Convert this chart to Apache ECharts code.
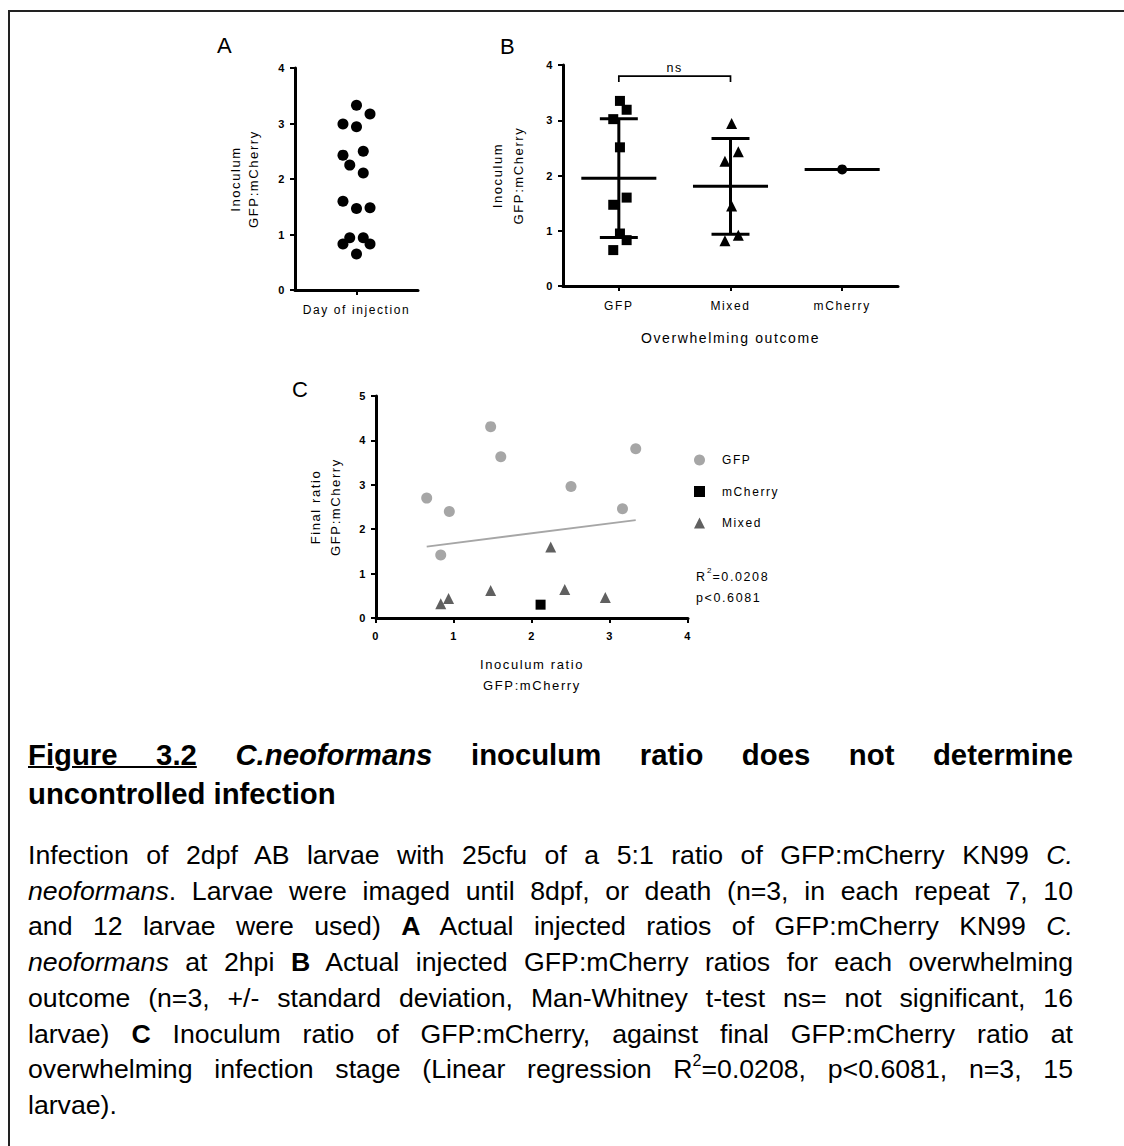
<!DOCTYPE html>
<html>
<head>
<meta charset="utf-8">
<script src="https://cdn.jsdelivr.net/npm/echarts@6/dist/echarts.min.js"></script>
<style>
html, body { margin: 0; padding: 0; background: #fff; }
body { width: 1124px; height: 1146px; position: relative; overflow: hidden; }
#frame { position: absolute; left: 8px; top: 10px; width: 1130px; height: 1150px; border-top: 2px solid #222; border-left: 2px solid #222; }
#fig { position: absolute; left: 0; top: 0; width: 1124px; height: 720px; }
#fig text { letter-spacing: 1.6px; }
.cap { position: absolute; left: 28px; width: 1045px; font-family: "Liberation Sans", Arial, sans-serif; color: #000; }
#title { top: 735px; font-size: 29.3px; line-height: 39px; font-weight: bold; }
#title u { text-decoration-thickness: 2px; }
#body { top: 838px; font-size: 26.67px; line-height: 35.7px; }
.j { text-align: justify; text-align-last: justify; }
sup { font-size: 0.6em; line-height: 0; vertical-align: 0.75em; }
</style>
</head>
<body>
<div id="frame"></div>
<div id="fig"></div>

<div id="title" class="cap">
	<div class="j"><u>Figure 3.2</u> <i>C.neoformans</i> inoculum ratio does not determine</div>
	<div>uncontrolled infection</div>
</div>
<div id="body" class="cap">
	<div class="j">Infection of 2dpf AB larvae with 25cfu of a 5:1 ratio of GFP:mCherry KN99 <i>C.</i></div>
	<div class="j"><i>neoformans</i>. Larvae were imaged until 8dpf, or death (n=3, in each repeat 7, 10</div>
	<div class="j">and 12 larvae were used) <b>A</b> Actual injected ratios of GFP:mCherry KN99 <i>C.</i></div>
	<div class="j"><i>neoformans</i> at 2hpi <b>B</b> Actual injected GFP:mCherry ratios for each overwhelming</div>
	<div class="j">outcome (n=3, +/- standard deviation, Man-Whitney t-test ns= not significant, 16</div>
	<div class="j">larvae) <b>C</b> Inoculum ratio of GFP:mCherry, against final GFP:mCherry ratio at</div>
	<div class="j">overwhelming infection stage (Linear regression R<sup>2</sup>=0.0208, p&lt;0.6081, n=3, 15</div>
	<div>larvae).</div>
</div>

<script>
// panel A - inoculum ratio at day of injection
const aInoculum = [3.33, 3.17, 2.99, 2.94, 2.43, 2.50, 2.25, 2.11, 1.60, 1.47, 1.48, 0.94, 0.94, 0.83, 0.83, 0.65]
const aJitter = [0, 0.22, -0.22, 0, -0.22, 0.11, -0.11, 0.11, -0.22, 0, 0.22, -0.11, 0.11, -0.22, 0.22, 0]
const aCategory = "Day of injection"

// panel B - inoculum ratio by overwhelming outcome
const bCategories = ["GFP", "Mixed", "mCherry"]
const bGfp = [3.35, 3.19, 3.02, 2.51, 1.60, 1.47, 0.95, 0.83, 0.65]
const bGfpJitter = [0.01, 0.07, -0.05, 0.01, 0.07, -0.05, 0.01, 0.07, -0.05]
const bMixed = [2.94, 2.26, 2.43, 1.45, 0.82, 0.92]
const bMixedJitter = [0.01, -0.05, 0.07, 0.01, -0.05, 0.07]
const bMcherry = [2.11]
const bMcherryJitter = [0]
const bSigLabel = "ns"
const bSigLevel = 3.8

// panel C - inoculum vs final ratio
const cGfpX = [0.65, 0.94, 0.83, 1.47, 1.60, 2.50, 3.16, 3.33]
const cGfpY = [2.70, 2.40, 1.42, 4.31, 3.63, 2.96, 2.46, 3.81]
const cMcherryX = [2.11]
const cMcherryY = [0.30]
const cMixedX = [0.83, 0.93, 1.47, 2.24, 2.42, 2.94]
const cMixedY = [0.32, 0.44, 0.62, 1.60, 0.64, 0.46]
const cLegend = ["GFP", "mCherry", "Mixed"]
const cR2 = "0.0208"
const cP = "0.6081"

const FONT = "Liberation Sans, Arial, sans-serif"
const GREY_LIGHT = "#a6a6a6"
const GREY_DARK = "#606060"

const zip = (xs, ys) => xs.map((x, i) => [x, ys[i]])
const mean = a => a.reduce((s, v) => s + v, 0) / a.length
const sd = a => {
	if (a.length < 2) return 0
	const m = mean(a)
	return Math.sqrt(a.reduce((s, v) => s + (v - m) ** 2, 0) / (a.length - 1))
}

// mean +/- SD per outcome group
const bGroups = [bGfp, bMixed, bMcherry]
const bSummary = bGroups.map((g, i) => [i, mean(g), sd(g)])

// linear regression over all larvae in C
const cAllX = cGfpX.concat(cMcherryX, cMixedX)
const cAllY = cGfpY.concat(cMcherryY, cMixedY)
const mx = mean(cAllX), my = mean(cAllY)
let sxy = 0, sxx = 0
cAllX.forEach((x, i) => {
	sxy += (x - mx) * (cAllY[i] - my)
	sxx += (x - mx) ** 2
})
const slope = sxy / sxx
const intercept = my - slope * mx
const xLo = Math.min(...cAllX), xHi = Math.max(...cAllX)
const cFit = [[xLo, intercept + slope * xLo], [xHi, intercept + slope * xHi]]

const tickLabel = { color: "#000", fontSize: 11, fontWeight: "bold", fontFamily: FONT, margin: 9 }

const axisBase = gridIndex => ({
	gridIndex,
	type: "value",
	axisLine: { show: true, onZero: false, lineStyle: { color: "#000", width: 3 } },
	axisTick: { show: true, length: 5, lineStyle: { color: "#000", width: 2 } },
	splitLine: { show: false },
	axisLabel: tickLabel,
	nameLocation: "middle",
	nameTextStyle: { color: "#000", fontSize: 13, fontFamily: FONT },
})

const dot = (symbol, size, color) => ({
	type: "scatter",
	symbol,
	symbolSize: size,
	itemStyle: { color, opacity: 1 },
	emphasis: { disabled: true },
})

const MEAN_HALF = 0.336
const CAP_HALF = 0.17

const option = {
	animation: false,
	backgroundColor: "transparent",
	textStyle: { fontFamily: FONT },
	grid: [
		{ left: 295, top: 68, width: 123, height: 222 },
		{ left: 563, top: 65, width: 335, height: 221 },
		{ left: 376, top: 396, width: 312, height: 222 },
	],
	xAxis: [
		{
			...axisBase(0),
			min: -1,
			max: 1,
			interval: 1,
			axisTick: { show: true, length: 5, customValues: [0], lineStyle: { color: "#000", width: 2 } },
			axisLabel: { color: "#000", fontSize: 12, fontFamily: FONT, margin: 14, customValues: [0], formatter: () => aCategory },
		},
		{
			...axisBase(1),
			min: -0.5,
			max: 2.5,
			interval: 1,
			axisTick: { show: true, length: 5, customValues: [0, 1, 2], lineStyle: { color: "#000", width: 2 } },
			axisLabel: {
				color: "#000", fontSize: 12, fontFamily: FONT, margin: 14,
				customValues: [0, 1, 2],
				formatter: v => bCategories[Math.round(v)],
			},
			name: "Overwhelming outcome",
			nameGap: 45,
			nameTextStyle: { color: "#000", fontSize: 14, fontFamily: FONT },
		},
		{
			...axisBase(2),
			min: 0,
			max: 4,
			interval: 1,
			axisLabel: { ...tickLabel, margin: 12 },
			name: "Inoculum ratio\nGFP:mCherry",
			nameGap: 36,
			nameTextStyle: { color: "#000", fontSize: 13, fontFamily: FONT, lineHeight: 21 },
		},
	],
	yAxis: [
		{
			...axisBase(0),
			min: 0,
			max: 4,
			interval: 1,
			name: "Inoculum\nGFP:mCherry",
			nameGap: 33,
			nameTextStyle: { color: "#000", fontSize: 13, fontFamily: FONT, lineHeight: 18 },
		},
		{
			...axisBase(1),
			min: 0,
			max: 4,
			interval: 1,
			name: "Inoculum\nGFP:mCherry",
			nameGap: 34,
			nameTextStyle: { color: "#000", fontSize: 13, fontFamily: FONT, lineHeight: 21 },
		},
		{
			...axisBase(2),
			min: 0,
			max: 5,
			interval: 1,
			name: "Final ratio\nGFP:mCherry",
			nameGap: 31,
			nameTextStyle: { color: "#000", fontSize: 13, fontFamily: FONT, lineHeight: 20 },
		},
	],
	legend: {
		data: cLegend,
		orient: "vertical",
		left: 694,
		top: 454,
		padding: 0,
		itemWidth: 11,
		itemHeight: 11,
		itemGap: 19.5,
		selectedMode: false,
		textStyle: { color: "#000", fontSize: 12, fontFamily: FONT, lineHeight: 11, padding: [0, 0, 0, 12] },
	},
	graphic: [
		{ type: "text", x: 217, y: 45, style: { text: "A", fontSize: 22, fontFamily: FONT, fill: "#000", verticalAlign: "middle" } },
		{ type: "text", x: 500, y: 46, style: { text: "B", fontSize: 22, fontFamily: FONT, fill: "#000", verticalAlign: "middle" } },
		{ type: "text", x: 292, y: 389, style: { text: "C", fontSize: 22, fontFamily: FONT, fill: "#000", verticalAlign: "middle" } },
		{
			type: "text", x: 696, y: 583,
			style: {
				text: "{t|R}{s|2}{t|=" + cR2 + "}",
				fill: "#000",
				verticalAlign: "bottom",
				rich: {
					t: { fontSize: 12.5, fontFamily: FONT, lineHeight: 17, verticalAlign: "bottom" },
					s: { fontSize: 8, fontFamily: FONT, verticalAlign: "top", padding: [0, 1, 0, 2] },
				},
			},
		},
		{ type: "text", x: 696, y: 598, style: { text: "p<" + cP, fontSize: 12.5, fontFamily: FONT, fill: "#000", verticalAlign: "middle" } },
	],
	series: [
		{ ...dot("circle", 11, "#000"), xAxisIndex: 0, yAxisIndex: 0, data: zip(aJitter, aInoculum) },
		{ ...dot("rect", 10, "#000"), xAxisIndex: 1, yAxisIndex: 1, data: zip(bGfpJitter.map(j => 0 + j), bGfp) },
		{ ...dot("triangle", 11, "#000"), xAxisIndex: 1, yAxisIndex: 1, data: zip(bMixedJitter.map(j => 1 + j), bMixed) },
		{ ...dot("circle", 10, "#000"), xAxisIndex: 1, yAxisIndex: 1, data: zip(bMcherryJitter.map(j => 2 + j), bMcherry) },
		{
			// mean line with SD whiskers
			type: "custom",
			xAxisIndex: 1,
			yAxisIndex: 1,
			encode: { x: 0, y: 1 },
			data: bSummary,
			renderItem(params, api) {
				const x = api.value(0), m = api.value(1), s = api.value(2)
				const style = { stroke: "#000", lineWidth: 3, fill: null }
				const seg = (a, b) => ({ type: "line", shape: { x1: a[0], y1: a[1], x2: b[0], y2: b[1] }, style })
				const children = [seg(api.coord([x - MEAN_HALF, m]), api.coord([x + MEAN_HALF, m]))]
				if (s > 0) {
					children.push(seg(api.coord([x, m - s]), api.coord([x, m + s])))
					children.push(seg(api.coord([x - CAP_HALF, m + s]), api.coord([x + CAP_HALF, m + s])))
					children.push(seg(api.coord([x - CAP_HALF, m - s]), api.coord([x + CAP_HALF, m - s])))
				}
				return { type: "group", children }
			},
		},
		{
			// significance bracket GFP vs Mixed
			type: "custom",
			xAxisIndex: 1,
			yAxisIndex: 1,
			encode: { x: 0, y: 2 },
			data: [[0, 1, bSigLevel]],
			renderItem(params, api) {
				const a = api.coord([api.value(0), api.value(2)])
				const b = api.coord([api.value(1), api.value(2)])
				const leg = 6
				return {
					type: "group",
					children: [
						{
							type: "polyline",
							shape: { points: [[a[0], a[1] + leg], a, b, [b[0], b[1] + leg]] },
							style: { stroke: "#000", lineWidth: 1.7, fill: null },
						},
						{
							type: "text",
							x: (a[0] + b[0]) / 2,
							y: a[1] - 2,
							style: { text: bSigLabel, fontSize: 12.5, fontFamily: FONT, fill: "#000", align: "center", verticalAlign: "bottom" },
						},
					],
				}
			},
		},
		{
			type: "line",
			xAxisIndex: 2,
			yAxisIndex: 2,
			showSymbol: false,
			symbol: "none",
			lineStyle: { color: GREY_LIGHT, width: 1.8 },
			emphasis: { disabled: true },
			data: cFit,
			z: 1,
		},
		{ ...dot("circle", 11, GREY_LIGHT), name: "GFP", xAxisIndex: 2, yAxisIndex: 2, data: zip(cGfpX, cGfpY) },
		{ ...dot("rect", 10, "#000"), name: "mCherry", xAxisIndex: 2, yAxisIndex: 2, data: zip(cMcherryX, cMcherryY) },
		{ ...dot("triangle", 11, GREY_DARK), name: "Mixed", xAxisIndex: 2, yAxisIndex: 2, data: zip(cMixedX, cMixedY) },
	],
}

const chart = echarts.init(document.getElementById("fig"), null, { renderer: "svg" })
chart.setOption(option)
</script>
</body>
</html>
